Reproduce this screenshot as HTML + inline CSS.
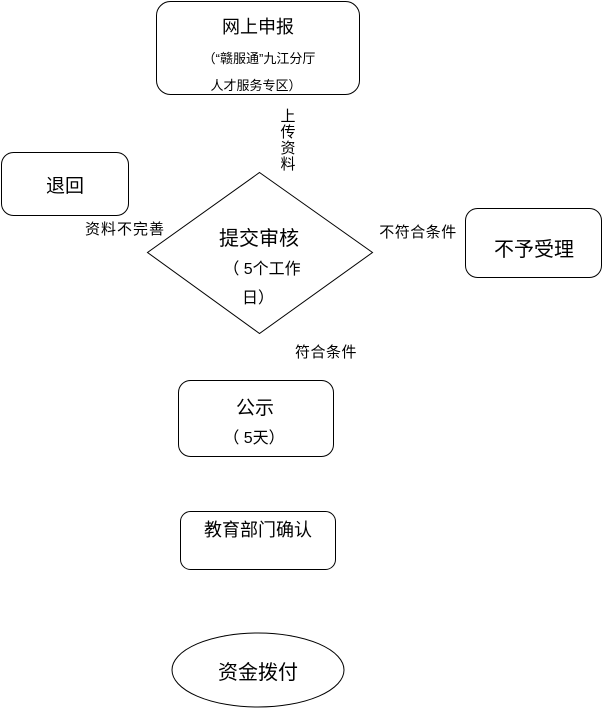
<!DOCTYPE html>
<html><head><meta charset="utf-8"><style>
body{margin:0;width:602px;height:708px;background:#fff;overflow:hidden;font-family:"Liberation Sans","Noto Sans CJK SC",sans-serif;}
svg text{font-family:"Liberation Sans","Noto Sans CJK SC",sans-serif;fill:#000;}
</style></head><body>
<svg width="602" height="708" viewBox="0 0 602 708" xmlns="http://www.w3.org/2000/svg">
<g fill="none" stroke="#000" stroke-width="1">
<rect x="156.5" y="1.5" width="203" height="93" rx="14"/>
<rect x="1.5" y="152.5" width="127" height="63" rx="12"/>
<rect x="465.5" y="208.5" width="136" height="69" rx="12"/>
<polygon points="259.5,172.5 372.5,252.5 259.5,333.5 147.5,252.5"/>
<rect x="178.5" y="380.5" width="155" height="76" rx="12"/>
<rect x="180.5" y="511.5" width="155" height="58" rx="10"/>
<ellipse cx="258" cy="670" rx="86" ry="37"/>
</g>
<text x="258" y="33" font-size="18" text-anchor="middle" fill="#333">网上申报</text>
<text x="259" y="63" font-size="13" text-anchor="middle">（“赣服通”九江分厅</text>
<text x="256" y="90" font-size="13" text-anchor="middle">人才服务专区）</text>
<g font-size="15" text-anchor="middle">
<text x="288" y="121">上</text><text x="288" y="137">传</text><text x="288" y="153">资</text><text x="288" y="169">料</text>
</g>
<text x="65" y="192" font-size="19" text-anchor="middle">退回</text>
<text x="125" y="234" font-size="15" letter-spacing="1" text-anchor="middle">资料不完善</text>
<text x="418" y="237" font-size="15" letter-spacing="0.5" text-anchor="middle">不符合条件</text>
<text x="534" y="256" font-size="20" text-anchor="middle">不予受理</text>
<text x="259" y="245" font-size="20" text-anchor="middle">提交审核</text>
<text x="262" y="274" font-size="16" text-anchor="middle">（ 5个工作</text>
<text x="258" y="303" font-size="16" text-anchor="middle">日）</text>
<text x="326" y="357" font-size="15" letter-spacing="0.5" text-anchor="middle">符合条件</text>
<text x="255" y="414" font-size="19" text-anchor="middle">公示</text>
<text x="254" y="443" font-size="16" text-anchor="middle">（ 5天）</text>
<text x="258" y="536" font-size="18" text-anchor="middle">教育部门确认</text>
<text x="258" y="679" font-size="20" text-anchor="middle">资金拨付</text>
</svg>
</body></html>
